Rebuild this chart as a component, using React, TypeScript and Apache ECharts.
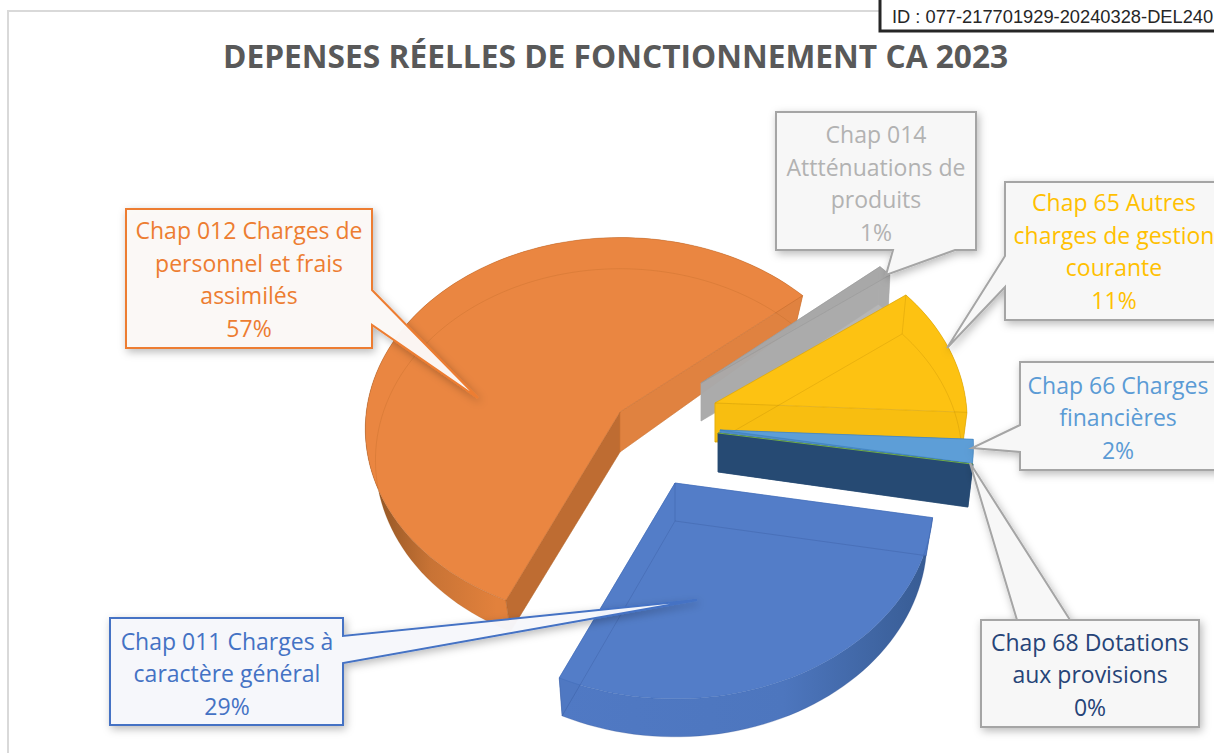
import React, { useEffect, useRef } from "react";
import * as echarts from "echarts";

// ---- data ----
const titleText = "DEPENSES RÉELLES DE FONCTIONNEMENT CA 2023";
const stampText = "ID : 077-217701929-20240328-DEL240";
const chapters = ["Chap 011", "Chap 012", "Chap 014", "Chap 65", "Chap 66", "Chap 68"];
const percents = [29, 57, 1, 11, 2, 0];
const labelLines = [
  ["Chap 011 Charges à", "caractère général", "29%"],
  ["Chap 012 Charges de", "personnel et frais", "assimilés", "57%"],
  ["Chap 014", "Attténuations de", "produits", "1%"],
  ["Chap 65 Autres", "charges de gestion", "courante", "11%"],
  ["Chap 66 Charges", "financières", "2%"],
  ["Chap 68 Dotations", "aux provisions", "0%"],
];

// ---- layout and style ----
const FONT = "'Open Sans', sans-serif";
const FIRST_BEARING = 100;
const PIE = { cx: 660, cy: 425, a: 255, b: 190, persp: 0.089 };
const explode = [[15, 58], [-40, -13], [41, -42], [55, -22], [60, 5], [58, 8]];
const scaleA = [1.01, 0.995, 0.975, 0.985, 0.99, 1];
const scaleB = [1.035, 1, 1, 1, 1, 0.93];
const wallH = [38, 40, 38, 39, 39, 39];
const wallTaper = [0, 0.22, 0, 0, 0, -0.1];
const wallShrink = [0.975, 0.96, 0.99, 0.98, 0.98, 0.98];
const drawOrder = [1, 2, 3, 4, 5, 0];
const topColors = ["#537DC8", "#EA8641", "#A6A6A6", "#FDC212", "#5E9FD8", "#70AD47"];
const startWall = ["#4F78C2", "#BE6C32", "#A9A9A9", "#F8BE10", "#4F8CC6", "#264A73"];
const endWall = ["#4F78C2", "#E08240", "#A9A9A9", "#F8BE10", "#4F8CC6", "#264A73"];
const rimWall = ["#4F78C2", "#DE7E3C", "#A9A9A9", "#F8BE10", "#4F8CC6", "#264A73"];
const rimStops: Record<number, [number, string][]> = {
  0: [[0, "#5079C4"], [0.6, "#4D76BE"], [1, "#375B92"]],
  1: [[0, "#6B3D15"], [0.04, "#9A5A27"], [0.15, "#C87335"], [0.3, "#E2813C"], [1, "#E2813C"]],
};
const edgeColors = ["#3F6AB5", "#B8652A", "#8F8F8F", "#C9970C", "#2E75B6", "#264A73"];
const ghostColors = ["rgba(40,70,130,0.22)", "rgba(150,80,20,0.16)", "rgba(90,90,90,0.2)", "rgba(170,120,0,0.22)", "rgba(40,90,150,0.2)", "rgba(0,0,0,0)"];
const textColors = ["#4472C4", "#ED7D31", "#B2B2B2", "#FFC000", "#5B9BD5", "#264478"];
const callouts = [
  { box: [110, 618, 343, 725], ptr: [[343, 636], [697, 600], [343, 663]], border: "#4472C4", fill: "rgba(247,248,252,0.97)", tx: 227, ty: 673 },
  { box: [126, 209, 372, 348], ptr: [[372, 290], [478, 398], [372, 325]], border: "#ED7D31", fill: "rgba(252,249,247,0.97)", tx: 249, ty: 279 },
  { box: [776, 112, 976, 250], ptr: [[955, 250], [886, 275], [893, 250]], border: "#A5A5A5", fill: "rgba(248,248,248,0.97)", tx: 876, ty: 183 },
  { box: [1005, 182, 1240, 320], ptr: [[1005, 256], [947, 348], [1005, 287]], border: "#A5A5A5", fill: "rgba(248,248,248,0.97)", tx: 1114, ty: 251 },
  { box: [1020, 362, 1240, 470], ptr: [[1020, 425], [972, 448], [1020, 452]], border: "#A5A5A5", fill: "rgba(248,248,248,0.97)", tx: 1118, ty: 417 },
  { box: [981, 620, 1199, 727], ptr: [[1070, 620], [970, 463], [1017, 620]], border: "#A5A5A5", fill: "rgba(248,248,248,0.97)", tx: 1090, ty: 674 },
];

const total = percents.reduce((s, v) => s + v, 0);
const spans = (() => {
  let b = FIRST_BEARING;
  return percents.map((v) => {
    const start = b;
    b += (v / total) * 360;
    return [start, b];
  });
})();

function rimPoint(i: number, bearing: number) {
  const t = (bearing * Math.PI) / 180;
  const X = Math.sin(t);
  const Y = -Math.cos(t);
  const w = 1 - PIE.persp * Y;
  return {
    x: PIE.cx + explode[i][0] + (PIE.a * scaleA[i] * X) / w,
    y: PIE.cy + explode[i][1] + (PIE.b * scaleB[i] * Y) / w,
    r: 1,
  };
}
const apex = (i: number) => ({ x: PIE.cx + explode[i][0], y: PIE.cy + explode[i][1], r: 0 });
const low = (i: number, p: { x: number; y: number; r: number }) => {
  const o = apex(i);
  return [o.x + (p.x - o.x) * wallShrink[i], p.y + wallH[i] * (1 - wallTaper[i] * p.r)];
};
const arc = (i: number, from: number, to: number) => {
  const n = Math.max(1, Math.ceil(Math.abs(to - from) / 2));
  return Array.from({ length: n + 1 }, (_, k) => rimPoint(i, from + ((to - from) * k) / n));
};

function renderSlice(params: any) {
  const i = drawOrder[params.dataIndex];
  const [s, e] = spans[i];
  const o = apex(i);
  const rim = arc(i, s, e);
  const top = [[o.x, o.y], ...rim.map((p) => [p.x, p.y])];
  const children: any[] = [];
  const see = i === 2 ? 0.85 : 1;
  const rimBand = [...rim.map((p) => [p.x, p.y]), ...rim.slice().reverse().map((p) => low(i, p))];
  const stops = rimStops[i];
  const wallFill = stops
    ? new echarts.graphic.LinearGradient(0, 0, 1, 0, stops.map(([offset, color]) => ({ offset, color })))
    : rimWall[i];
  children.push({ type: "polygon", shape: { points: rimBand }, style: { fill: wallFill, opacity: see } });
  [rim[0], rim[rim.length - 1]].forEach((p, k) => {
    const c = k === 0 ? startWall[i] : endWall[i];
    children.push({
      type: "polygon",
      shape: { points: [[o.x, o.y], [p.x, p.y], low(i, p), low(i, o)] },
      style: { fill: c, stroke: c, lineWidth: 0.5, opacity: see },
    });
  });
  if (percents[i] > 0) {
    children.push({
      type: "polygon",
      shape: { points: top },
      style: { fill: topColors[i], stroke: edgeColors[i], lineWidth: 0.8, strokeOpacity: 0.55, opacity: i === 2 ? 0.88 : i === 4 ? 0.92 : 1 },
    });
  } else {
    children.push({
      type: "polyline",
      shape: { points: top },
      style: { fill: "none", stroke: topColors[i], lineWidth: 1 },
    });
  }
  if (percents[i] >= 10) {
    // the far outline of the slice's underside shows faintly through the translucent top
    const under = [low(i, o), ...rim.map((p) => low(i, p)), low(i, o)];
    children.push({
      type: "polyline",
      shape: { points: under },
      style: { fill: "none", stroke: ghostColors[i], lineWidth: 1 },
    });
    [o, rim[0], rim[rim.length - 1]].forEach((p) => {
      children.push({
        type: "line",
        shape: { x1: p.x, y1: p.y, x2: low(i, p)[0], y2: low(i, p)[1] },
        style: { stroke: ghostColors[i], lineWidth: 1 },
      });
    });
  }
  return { type: "group", children };
}

function calloutGraphics() {
  const els: any[] = [];
  callouts.forEach((c, i) => {
    const [x0, y0, x1, y1] = c.box;
    const [p0, tip, p2] = c.ptr;
    let pts: number[][];
    if (p0[0] === x1 && p2[0] === x1) pts = [[x0, y0], [x1, y0], p0, tip, p2, [x1, y1], [x0, y1]];
    else if (p0[0] === x0 && p2[0] === x0) pts = [[x0, y0], [x1, y0], [x1, y1], [x0, y1], p2, tip, p0];
    else if (p0[1] === y1) pts = [[x0, y0], [x1, y0], [x1, y1], p0, tip, p2, [x0, y1]];
    else pts = [[x0, y0], p0, tip, p2, [x1, y0], [x1, y1], [x0, y1]];
    els.push({
      type: "polygon",
      z: 100,
      shape: { points: pts },
      style: {
        fill: c.fill,
        stroke: c.border,
        lineWidth: 2,
        shadowBlur: 8,
        shadowColor: "rgba(0,0,0,0.28)",
        shadowOffsetX: 2,
        shadowOffsetY: 3,
      },
    });
    els.push({
      type: "text",
      z: 101,
      x: c.tx,
      y: c.ty,
      style: {
        text: labelLines[i].join("\n"),
        fill: textColors[i],
        font: `23px ${FONT}`,
        lineHeight: 32.5,
        align: "center",
        verticalAlign: "middle",
      },
    });
  });
  return els;
}

export default function App() {
  const ref = useRef<HTMLDivElement>(null);
  useEffect(() => {
    document.body.style.margin = "0";
    document.body.style.overflow = "hidden";
    const chart = echarts.init(ref.current!, null, { renderer: "svg" });
    chart.setOption({
      animation: false,
      backgroundColor: "#ffffff",
      title: {
        text: titleText,
        left: 218,
        top: 34,
        textStyle: { color: "#595959", fontFamily: FONT, fontWeight: "bold", fontSize: 31.7 },
      },
      series: [
        {
          type: "custom",
          coordinateSystem: "none",
          data: drawOrder.map((i) => ({ name: chapters[i], value: percents[i] })),
          renderItem: renderSlice,
          silent: true,
          z: 5,
        },
      ],
      graphic: [
        { type: "rect", z: 1, shape: { x: 8, y: 11, width: 1400, height: 900 }, style: { fill: "none", stroke: "#D9D9D9", lineWidth: 2 } },
        ...calloutGraphics(),
        { type: "rect", z: 110, shape: { x: 880, y: -6, width: 400, height: 37 }, style: { fill: "#ffffff", stroke: "#262626", lineWidth: 3 } },
        { type: "text", z: 111, x: 892, y: 16, style: { text: stampText, fill: "#262626", font: "18.3px 'Liberation Sans', Arial, sans-serif", align: "left", verticalAlign: "middle" } },
      ],
    });
    return () => chart.dispose();
  }, []);
  return <div ref={ref} style={{ position: "fixed", left: 0, top: 0, width: 1214, height: 753, overflow: "hidden" }} />;
}
